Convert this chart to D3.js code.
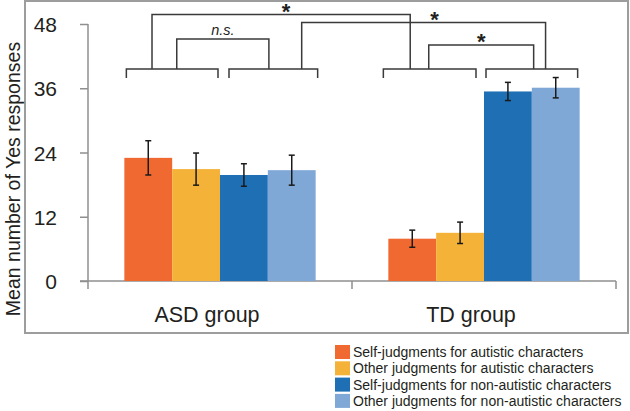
<!DOCTYPE html>
<html>
<head>
<meta charset="utf-8">
<script src="https://cdn.jsdelivr.net/npm/d3@7"></script>
<style>
  body { margin: 0; background: #fff; }
  svg text { font-family: "Liberation Sans", Arial, Helvetica, sans-serif; fill: #231f20; }
</style>
</head>
<body>
<div id="chart"></div>
<script>

// data
var groups = ["ASD group", "TD group"];
var conditions = [
    "Self-judgments for autistic characters",
    "Other judgments for autistic characters",
    "Self-judgments for non-autistic characters",
    "Other judgments for non-autistic characters"
];
var meansASD = [23.0, 20.9, 19.8, 20.7];
var errASD   = [3.2, 3.0, 2.1, 2.8];
var meansTD  = [7.9, 9.0, 35.4, 36.1];
var errTD    = [1.6, 2.0, 1.7, 1.9];
var yTicks = [0, 12, 24, 36, 48];

// comparisons: [group, pair] -> [group, pair]
var comparisons = [
    {from: [0, 0], to: [0, 1], label: "n.s."},
    {from: [0, 0], to: [1, 0], label: "*"},
    {from: [0, 1], to: [1, 1], label: "*"},
    {from: [1, 0], to: [1, 1], label: "*"}
];

var colors = ["#ef6930", "#f4b238", "#1f6fb4", "#7fa8d6"];

// hand drawn bracket layout
var pairInset = [[2, -2], [9, 2], [-5, -8], [2, -2]];   // [left, right] shift per pair bracket
var bracketLayout = [
    {fa: 0.55, fb: 0.45, top: 39, dx: 0},
    {fa: 0.28, fb: 0.29, top: 14.5, dx: 5},
    {fa: 0.82, fb: 0.65, top: 22.5, dx: 11},
    {fa: 0.49, fb: 0.52, top: 45, dx: 0}
];

var width = 630, height = 411;

var svg = d3.select("#chart").append("svg")
    .attr("width", width)
    .attr("height", height);

// outer frame
svg.append("rect")
    .attr("x", 25).attr("y", 1)
    .attr("width", 603).attr("height", 332)
    .attr("fill", "none")
    .attr("stroke", "#9d9d9d")
    .attr("stroke-width", 2);

var x0 = d3.scaleBand()
    .domain(groups)
    .range([88, 616]);

var x1 = d3.scaleBand()
    .domain(d3.range(conditions.length))
    .range([0, x0.bandwidth()])
    .paddingOuter(0.76);

var yScale = d3.scaleLinear()
    .domain([0, 48])
    .range([281, 24]);

var dataset = groups.map(function(g, i) {
    var m = i == 0 ? meansASD : meansTD;
    var e = i == 0 ? errASD : errTD;
    return m.map(function(v, j) { return {group: g, cond: j, mean: v, err: e[j]}; });
});

// y axis
var yAxis = svg.append("g")
    .attr("transform", "translate(88,0)")
    .call(d3.axisLeft(yScale).tickValues(yTicks).tickSize(8).tickSizeOuter(0).tickPadding(23));
yAxis.select(".domain").attr("stroke", "#8f8f8f").attr("stroke-width", 1.5)
    .attr("d", "M0," + yScale(48) + "V" + (yScale(0) + 8));
yAxis.selectAll(".tick line").attr("stroke", "#8f8f8f").attr("stroke-width", 1.5);
yAxis.selectAll(".tick text")
    .style("font-size", "21px")
    .attr("fill", "#231f20")
    .attr("dy", "0.36em");

// y title
svg.append("text")
    .attr("transform", "translate(20," + 179 + ") rotate(-90)")
    .attr("text-anchor", "middle")
    .style("font-size", "19.5px")
    .text("Mean number of Yes responses");

// x axis line + boundary ticks
var xg = svg.append("g");
xg.append("line")
    .attr("x1", 80).attr("x2", x0.range()[1])
    .attr("y1", yScale(0)).attr("y2", yScale(0))
    .attr("stroke", "#8f8f8f").attr("stroke-width", 1.5);
xg.selectAll(".bound")
    .data(groups.slice(1).concat(["end"]))
    .enter().append("line")
    .attr("class", "bound")
    .attr("x1", function(d) { return d == "end" ? x0.range()[1] : x0(d); })
    .attr("x2", function(d) { return d == "end" ? x0.range()[1] : x0(d); })
    .attr("y1", yScale(0)).attr("y2", yScale(0) + 8)
    .attr("stroke", "#8f8f8f").attr("stroke-width", 1.5);
xg.selectAll(".glabel")
    .data(groups)
    .enter().append("text")
    .attr("class", "glabel")
    .attr("x", function(d) { return x0(d) + x0.bandwidth() / 2 - 13; })
    .attr("y", 322)
    .attr("text-anchor", "middle")
    .style("font-size", "21.5px")
    .text(function(d) { return d; });

// bars
var gBars = svg.selectAll(".grp")
    .data(dataset)
    .enter().append("g")
    .attr("class", "grp")
    .attr("transform", function(d) { return "translate(" + x0(d[0].group) + ",0)"; });

gBars.selectAll("rect")
    .data(function(d) { return d; })
    .enter().append("rect")
    .attr("x", function(d) { return x1(d.cond); })
    .attr("width", x1.bandwidth())
    .attr("y", function(d) { return yScale(d.mean); })
    .attr("height", function(d) { return yScale(0) - yScale(d.mean); })
    .attr("fill", function(d) { return colors[d.cond]; });

// error bars
var eb = gBars.selectAll(".err")
    .data(function(d) { return d; })
    .enter().append("g")
    .attr("class", "err")
    .attr("stroke", "#1a1a1a")
    .attr("stroke-width", 1.5);
eb.append("line")
    .attr("x1", function(d) { return x1(d.cond) + x1.bandwidth() / 2; })
    .attr("x2", function(d) { return x1(d.cond) + x1.bandwidth() / 2; })
    .attr("y1", function(d) { return yScale(d.mean + d.err); })
    .attr("y2", function(d) { return yScale(d.mean - d.err); });
[1, -1].forEach(function(s) {
    eb.append("line")
        .attr("x1", function(d) { return x1(d.cond) + x1.bandwidth() / 2 - 3; })
        .attr("x2", function(d) { return x1(d.cond) + x1.bandwidth() / 2 + 3; })
        .attr("y1", function(d) { return yScale(d.mean + s * d.err); })
        .attr("y2", function(d) { return yScale(d.mean + s * d.err); });
});

// pair brackets
var pairTop = 69, pairLeg = 9;
function pairExtent(g, p) {
    var ins = pairInset[g * 2 + p];
    var a = x0(groups[g]) + x1(p * 2) + ins[0];
    var b = x0(groups[g]) + x1(p * 2 + 1) + x1.bandwidth() + ins[1];
    return [a, b];
}
var brk = svg.append("g")
    .attr("fill", "none")
    .attr("stroke", "#3a3a3a")
    .attr("stroke-width", 1.5);
[[0, 0], [0, 1], [1, 0], [1, 1]].forEach(function(gp) {
    var e = pairExtent(gp[0], gp[1]);
    brk.append("path")
        .attr("d", "M" + e[0] + "," + (pairTop + pairLeg) + "V" + pairTop + "H" + e[1] + "V" + (pairTop + pairLeg));
});

comparisons.forEach(function(c, i) {
    var L = bracketLayout[i];
    var ea = pairExtent(c.from[0], c.from[1]);
    var eb2 = pairExtent(c.to[0], c.to[1]);
    var xa = ea[0] + L.fa * (ea[1] - ea[0]);
    var xb = eb2[0] + L.fb * (eb2[1] - eb2[0]);
    brk.append("path")
        .attr("d", "M" + xa + "," + pairTop + "V" + L.top + "H" + xb + "V" + pairTop);
    var t = svg.append("text")
        .attr("x", (xa + xb) / 2 + L.dx)
        .attr("text-anchor", "middle")
        .text(c.label);
    if (c.label == "*") {
        t.attr("y", L.top + 4).style("font-size", "22px").style("font-weight", "bold");
    } else {
        t.attr("y", L.top - 4).style("font-size", "14.5px").style("font-style", "italic");
    }
});

// legend
var legend = svg.selectAll(".leg")
    .data(conditions)
    .enter().append("g")
    .attr("class", "leg")
    .attr("transform", function(d, i) { return "translate(335," + (345 + i * 16.3) + ")"; });
legend.append("rect")
    .attr("width", 15).attr("height", 14)
    .attr("fill", function(d, i) { return colors[i]; });
legend.append("text")
    .attr("x", 18).attr("y", 7)
    .attr("dy", "0.36em")
    .style("font-size", "14px")
    .text(function(d) { return d; });

</script>
</body>
</html>
